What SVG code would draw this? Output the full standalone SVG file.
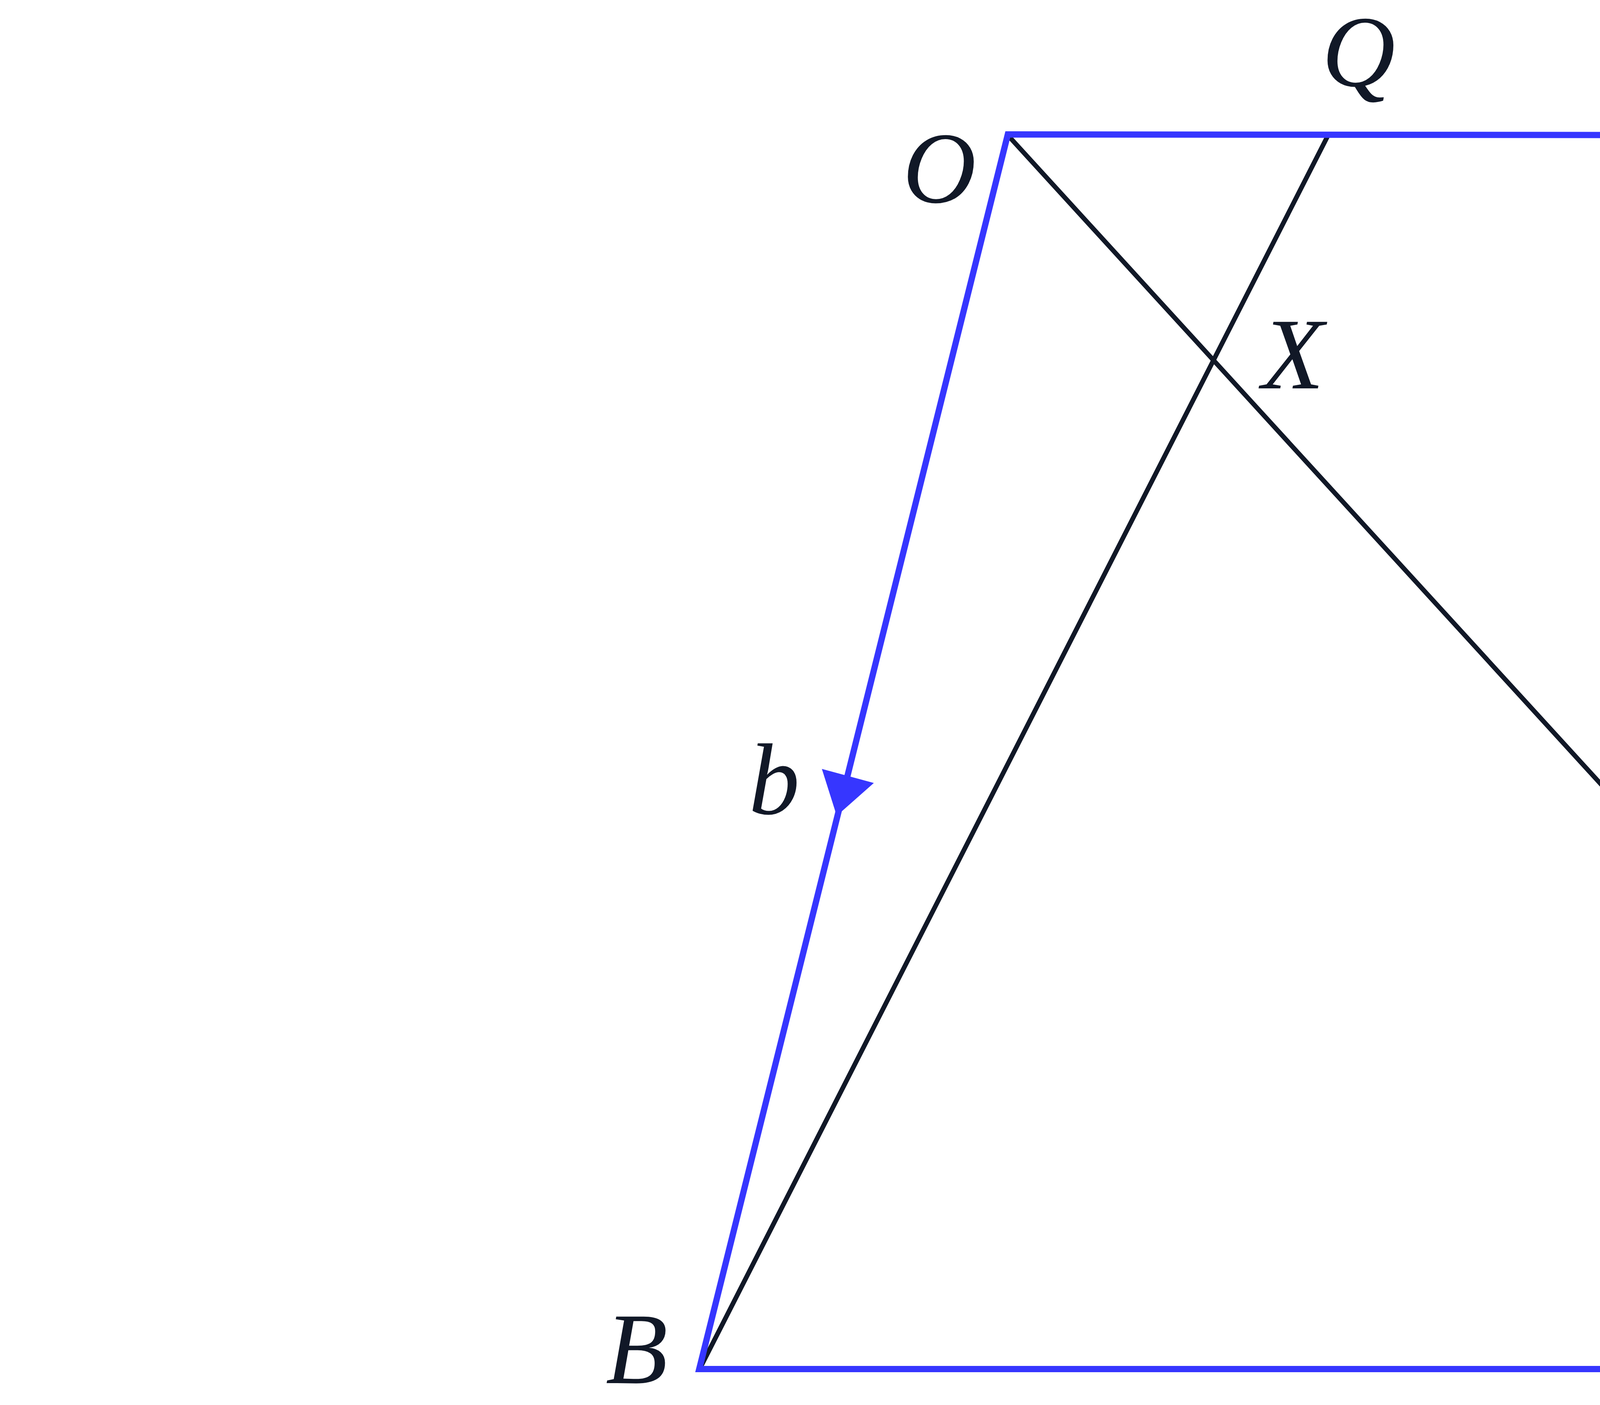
<svg xmlns="http://www.w3.org/2000/svg" width="8000" height="3596" viewBox="0 0 8000 3596">
<style>
.blue{fill:none;stroke:#3636FF;stroke-width:16;stroke-linejoin:miter}
.dark{fill:none;stroke:#111827;stroke-width:12;stroke-linecap:round}
.head{fill:#3636FF;stroke:none}
text{font-family:"Liberation Serif","DejaVu Serif",serif;font-style:italic;font-size:260px;fill:#111827;text-anchor:middle}
</style>
<rect width="8000" height="3596" fill="#ffffff"/>
<g id="connectors">
<path class="dark" d="M2580,346 L5465,3502"/>
<path class="dark" d="M3400,346 L1792,3502"/>
<path class="blue" d="M2580,344 L6256,348 L5465,3504 L1790,3504 Z"/>
<polygon class="head" points="4184,277 4291,346 4184,415"/>
<polygon class="head" points="2104,1968 2237,2004 2142,2088"/>
</g>
<g id="O"><text x="2405" y="518">O</text></g>
<g id="Q"><text x="3478" y="220">Q</text></g>
<g id="a"><text x="4222" y="178">a</text></g>
<g id="A"><text x="6360" y="527">A</text></g>
<g id="X"><text x="3310" y="994">X</text></g>
<g id="b"><text x="1982" y="2083">b</text></g>
<g id="B"><text x="1630" y="3540">B</text></g>
<g id="C"><text x="5650" y="3540">C</text></g>
</svg>
